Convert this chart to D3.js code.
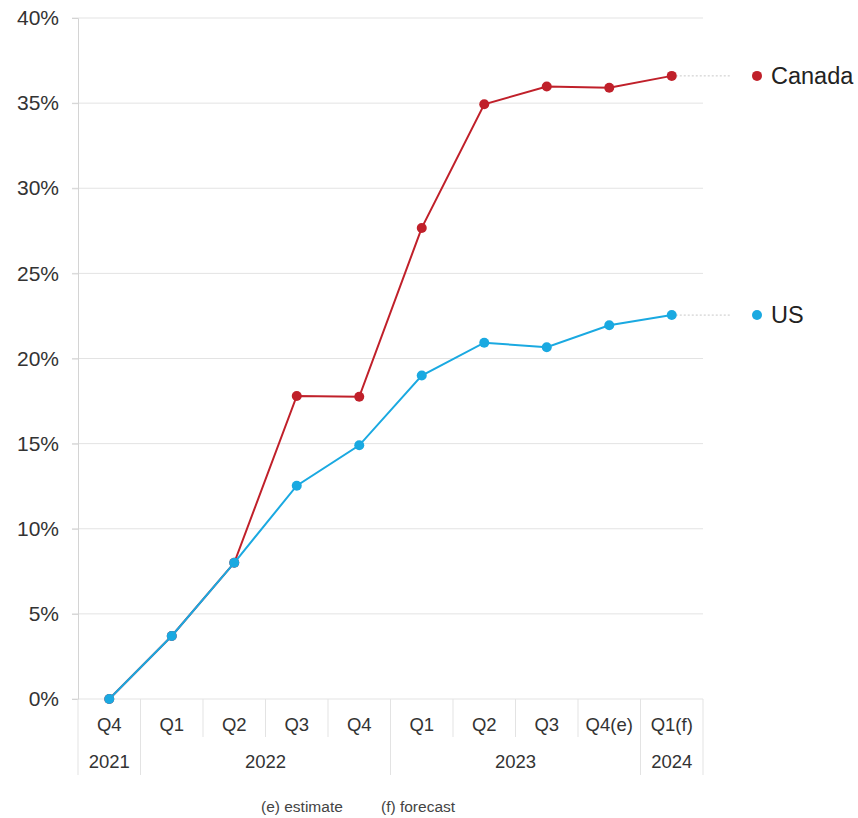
<!DOCTYPE html>
<html>
<head>
<meta charset="utf-8">
<script src="https://cdn.jsdelivr.net/npm/d3@7"></script>
<style>
  html, body { margin: 0; padding: 0; background: #fff; }
  svg { display: block; font-family: "Liberation Sans", Arial, sans-serif; }
</style>
</head>
<body>
<svg id="chart" width="858" height="818"></svg>
<script>
// Quarters along the x axis, with the year each belongs to
const quarters = ["Q4", "Q1", "Q2", "Q3", "Q4", "Q1", "Q2", "Q3", "Q4(e)", "Q1(f)"];
const years = ["2021", "2022", "2022", "2022", "2022", "2023", "2023", "2023", "2023", "2024"];

// Cumulative change, percent
const canada = [0, 3.7, 8.0, 17.8, 17.75, 27.67, 34.93, 35.98, 35.9, 36.6];
const us = [0, 3.7, 8.0, 12.53, 14.9, 19.0, 20.93, 20.66, 21.95, 22.55];

const yTicks = [0, 5, 10, 15, 20, 25, 30, 35, 40];
const footnotes = ["(e) estimate", "(f) forecast"];

const series = [
  { name: "Canada", values: canada, color: "#c0202a" },
  { name: "US", values: us, color: "#1aa9e1" }
];

const svg = d3.select("#chart");
const plotLeft = 78, plotRight = 703, plotTop = 18, plotBottom = 699;
const quarterRowBottom = 737, yearRowBottom = 775;

const idx = quarters.map((_, i) => i);
const x = d3.scaleBand().domain(idx).range([plotLeft, plotRight]).padding(0);
const y = d3.scaleLinear().domain([0, 40]).range([plotBottom, plotTop]);
const cx = i => x(i) + x.bandwidth() / 2;

// Horizontal gridlines
svg.append("g")
  .selectAll("line")
  .data(yTicks)
  .join("line")
  .attr("x1", plotLeft - 6).attr("x2", plotRight)
  .attr("y1", d => y(d)).attr("y2", d => y(d))
  .attr("stroke", "#e3e3e3").attr("stroke-width", 1);

// Y axis
const yAxis = svg.append("g")
  .attr("transform", `translate(${plotLeft},0)`)
  .call(d3.axisLeft(y).tickValues(yTicks).tickSize(6).tickPadding(13).tickFormat(d => d + "%"));
yAxis.select(".domain").attr("stroke", "#d4d4d4");
yAxis.selectAll(".tick line").attr("stroke", "#d4d4d4");
yAxis.selectAll("text").attr("fill", "#333").attr("font-size", 21)
  .attr("font-family", "'Liberation Sans', Arial, sans-serif");

// Quarter row dividers
svg.append("g")
  .selectAll("line")
  .data(d3.range(quarters.length + 1))
  .join("line")
  .attr("x1", i => plotLeft + i * x.bandwidth())
  .attr("x2", i => plotLeft + i * x.bandwidth())
  .attr("y1", plotBottom).attr("y2", quarterRowBottom)
  .attr("stroke", "#e3e3e3");

// Year groups
const yearGroups = [];
years.forEach((yr, i) => {
  const last = yearGroups[yearGroups.length - 1];
  if (last && last.year === yr) last.end = i;
  else yearGroups.push({ year: yr, start: i, end: i });
});
const bounds = [plotLeft, ...yearGroups.map(g => x(g.end) + x.bandwidth())];
svg.append("g")
  .selectAll("line")
  .data(bounds)
  .join("line")
  .attr("x1", d => d).attr("x2", d => d)
  .attr("y1", quarterRowBottom).attr("y2", yearRowBottom)
  .attr("stroke", "#e3e3e3");

// Quarter labels
svg.append("g")
  .selectAll("text")
  .data(quarters)
  .join("text")
  .attr("x", (d, i) => cx(i))
  .attr("y", 724)
  .attr("text-anchor", "middle")
  .attr("dominant-baseline", "central")
  .attr("font-size", 18.5)
  .attr("fill", "#333")
  .text(d => d);

// Year labels
svg.append("g")
  .selectAll("text")
  .data(yearGroups)
  .join("text")
  .attr("x", g => (x(g.start) + x(g.end) + x.bandwidth()) / 2)
  .attr("y", 761)
  .attr("text-anchor", "middle")
  .attr("dominant-baseline", "central")
  .attr("font-size", 18.5)
  .attr("fill", "#333")
  .text(g => g.year);

// Footnotes
svg.append("g")
  .selectAll("text")
  .data(footnotes)
  .join("text")
  .attr("x", (d, i) => [261, 381][i])
  .attr("y", 806)
  .attr("dominant-baseline", "central")
  .attr("font-size", 15.5)
  .attr("fill", "#444")
  .text(d => d);

// Lines and markers
const line = d3.line().x((d, i) => cx(i)).y(d => y(d));
const legendX = 757;

series.forEach(s => {
  const last = s.values.length - 1;
  // Dotted leader from the last point to the label
  svg.append("line")
    .attr("x1", cx(last)).attr("x2", 730)
    .attr("y1", y(s.values[last])).attr("y2", y(s.values[last]))
    .attr("stroke", "#c8c8c8").attr("stroke-width", 1)
    .attr("stroke-dasharray", "2,2");

  svg.append("path")
    .datum(s.values)
    .attr("d", line)
    .attr("fill", "none")
    .attr("stroke", s.color)
    .attr("stroke-width", 2);

  svg.append("g")
    .selectAll("circle")
    .data(s.values)
    .join("circle")
    .attr("cx", (d, i) => cx(i))
    .attr("cy", d => y(d))
    .attr("r", 5)
    .attr("fill", s.color);

  svg.append("circle")
    .attr("cx", legendX).attr("cy", y(s.values[last]))
    .attr("r", 5).attr("fill", s.color);
  svg.append("text")
    .attr("x", legendX + 14).attr("y", y(s.values[last]))
    .attr("dominant-baseline", "central")
    .attr("font-size", 23.5)
    .attr("fill", "#222")
    .text(s.name);
});
</script>
</body>
</html>
